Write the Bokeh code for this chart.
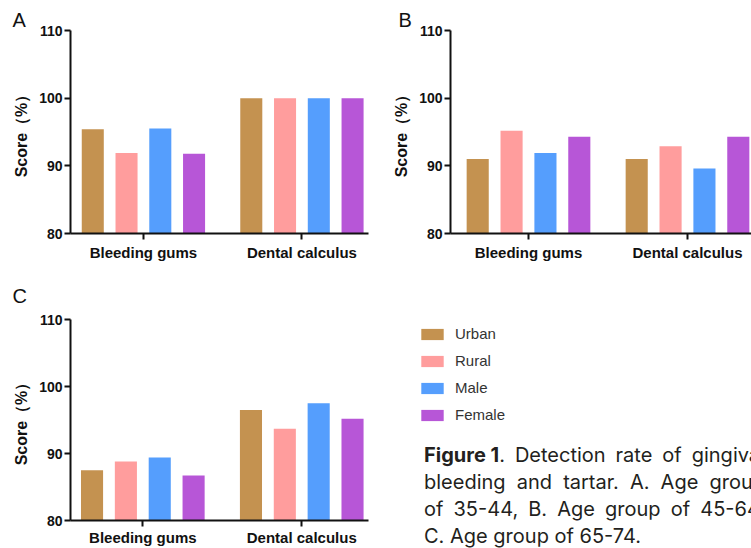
from bokeh.plotting import figure
from bokeh.models import Range1d, FixedTicker, Div, Legend, LegendItem
from bokeh.layouts import row, column
from bokeh.embed import file_html
from bokeh.resources import INLINE

# ---------------- data ----------------
groups = ["Bleeding gums", "Dental calculus"]
series = ["Urban", "Rural", "Male", "Female"]
colors = ["#C49250", "#FF9D9D", "#559EFD", "#B756D7"]
y_ticks = [80, 90, 100, 110]

# values per series in order Urban, Rural, Male, Female
a_bleeding = [95.4, 91.9, 95.5, 91.8]
a_calculus = [100.0, 100.0, 100.0, 100.0]
b_bleeding = [91.0, 95.2, 91.9, 94.3]
b_calculus = [91.0, 92.9, 89.6, 94.3]
c_bleeding = [87.5, 88.8, 89.4, 86.7]
c_calculus = [96.5, 93.7, 97.5, 95.2]

caption_lines = [
    ["Figure 1.", "Detection", "rate", "of", "gingival"],
    ["bleeding", "and", "tartar.", "A.", "Age", "group"],
    ["of", "35-44,", "B.", "Age", "group", "of", "45-64,"],
]
caption_last = "C. Age group of 65-74."

# ---------------- style ----------------
FONT = "Liberation Sans"
INK = "#111111"
STEP = 0.213
BAR_W = 0.139
OFFSETS = [-1.5 * STEP, -0.5 * STEP, 0.5 * STEP, 1.5 * STEP]


def make_panel(letter, bleeding, calculus, width, height, mbl, mbr, mbt, mbb,
               x0, x1, letter_dx, letter_standoff, xlabel_standoff=4):
    p = figure(width=width, height=height, output_backend="svg",
               toolbar_location=None, x_range=Range1d(x0, x1),
               y_range=Range1d(80, 110),
               min_border_left=mbl, min_border_right=mbr,
               min_border_top=mbt, min_border_bottom=mbb,
               title=letter)
    p.outline_line_color = None
    p.grid.visible = False
    p.background_fill_color = "white"
    p.border_fill_color = "white"

    p.title.text_font = FONT
    p.title.text_font_size = "20px"
    p.title.text_font_style = "normal"
    p.title.text_color = INK
    p.title.align = "left"
    p.title.offset = letter_dx
    p.title.standoff = letter_standoff

    for i, s in enumerate(series):
        src = dict(x=[g + OFFSETS[i] for g in range(len(groups))],
                   top=[bleeding[i], calculus[i]])
        p.vbar(x="x", top="top", bottom=80, width=BAR_W, source=src,
               fill_color=colors[i], line_color=None)

    for ax in (p.xaxis, p.yaxis):
        ax.axis_line_width = 2
        ax.axis_line_color = INK
        ax.major_tick_line_width = 2
        ax.major_tick_line_color = INK
        ax.major_tick_in = 0
        ax.major_tick_out = 6
        ax.minor_tick_line_color = None
        ax.major_label_text_font = FONT
        ax.major_label_text_font_style = "bold"
        ax.major_label_text_color = INK

    p.xaxis.ticker = FixedTicker(ticks=list(range(len(groups))))
    p.xaxis.major_label_overrides = {i: g for i, g in enumerate(groups)}
    p.xaxis.major_label_text_font_size = "15px"
    p.xaxis.major_label_standoff = xlabel_standoff

    p.yaxis.ticker = FixedTicker(ticks=y_ticks)
    p.yaxis.major_label_text_font_size = "14px"
    p.yaxis.major_label_standoff = 2
    p.yaxis.axis_label = "Score（%）"
    p.yaxis.axis_label_text_font = FONT
    p.yaxis.axis_label_text_font_style = "bold"
    p.yaxis.axis_label_text_font_size = "16px"
    p.yaxis.axis_label_text_color = INK
    p.yaxis.axis_label_standoff = 6
    return p


pa = make_panel("A", a_bleeding, a_calculus, 380, 270, 70, 12, 30, 37,
                -0.46, 1.42, -58, 0)
pb = make_panel("B", b_bleeding, b_calculus, 371, 270, 70, 0, 30, 37,
                -0.4906, 1.4025, -52, 0)
pc = make_panel("C", c_bleeding, c_calculus, 380, 278, 70, 12, 49, 26,
                -0.455, 1.42, -58, 25, xlabel_standoff=2)

# ---------------- legend ----------------
lp = figure(width=371, height=167, output_backend="svg", toolbar_location=None,
            x_range=Range1d(0, 1), y_range=Range1d(0, 1),
            x_axis_type=None, y_axis_type=None, min_border=0)
lp.outline_line_color = None
lp.grid.visible = False
lp.background_fill_color = "white"
lp.border_fill_color = "white"
items = []
for s, c in zip(series, colors):
    # zero-height proxy bar: only its legend swatch is visible
    r = lp.vbar(x=[0], top=[0], bottom=0, width=0, fill_color=c,
                line_color=None)
    items.append(LegendItem(label=s, renderers=[r]))
legend = Legend(items=items, location=(38, 14), padding=0, margin=0,
                border_line_color=None, background_fill_alpha=0,
                spacing=10, glyph_width=28, glyph_height=14, label_height=14,
                label_standoff=9, label_text_font=FONT,
                label_text_font_size="15px", label_text_color="#333333",
                label_text_baseline="middle")
lp.add_layout(legend)

# ---------------- caption ----------------
def line_html(words, bold_first):
    spans = []
    for j, w in enumerate(words):
        if j == 0 and bold_first:
            spans.append('<span><b>%s</b></span>' % w.replace(".", "</b>."))
        else:
            spans.append('<span>%s</span>' % w)
    return ('<div style="display:flex;justify-content:space-between;'
            'width:341px;white-space:nowrap;">' + "".join(spans) + "</div>")

html = ('<div style="width:371px;height:111px;overflow:hidden;position:relative;'
        'background:white;">'
        '<div style="position:absolute;left:39px;top:0px;width:400px;'
        'font-family:Inter;font-size:20px;line-height:27px;color:#231f20;">'
        + line_html(caption_lines[0], True)
        + line_html(caption_lines[1], False)
        + line_html(caption_lines[2], False)
        + '<div style="white-space:nowrap;">%s</div>' % caption_last
        + '</div></div>')
cap = Div(text=html, width=371, height=111, styles={"overflow": "hidden"})

layout = column(row(pa, pb), row(pc, column(lp, cap)))

open("out.html", "w").write(file_html(layout, INLINE))
